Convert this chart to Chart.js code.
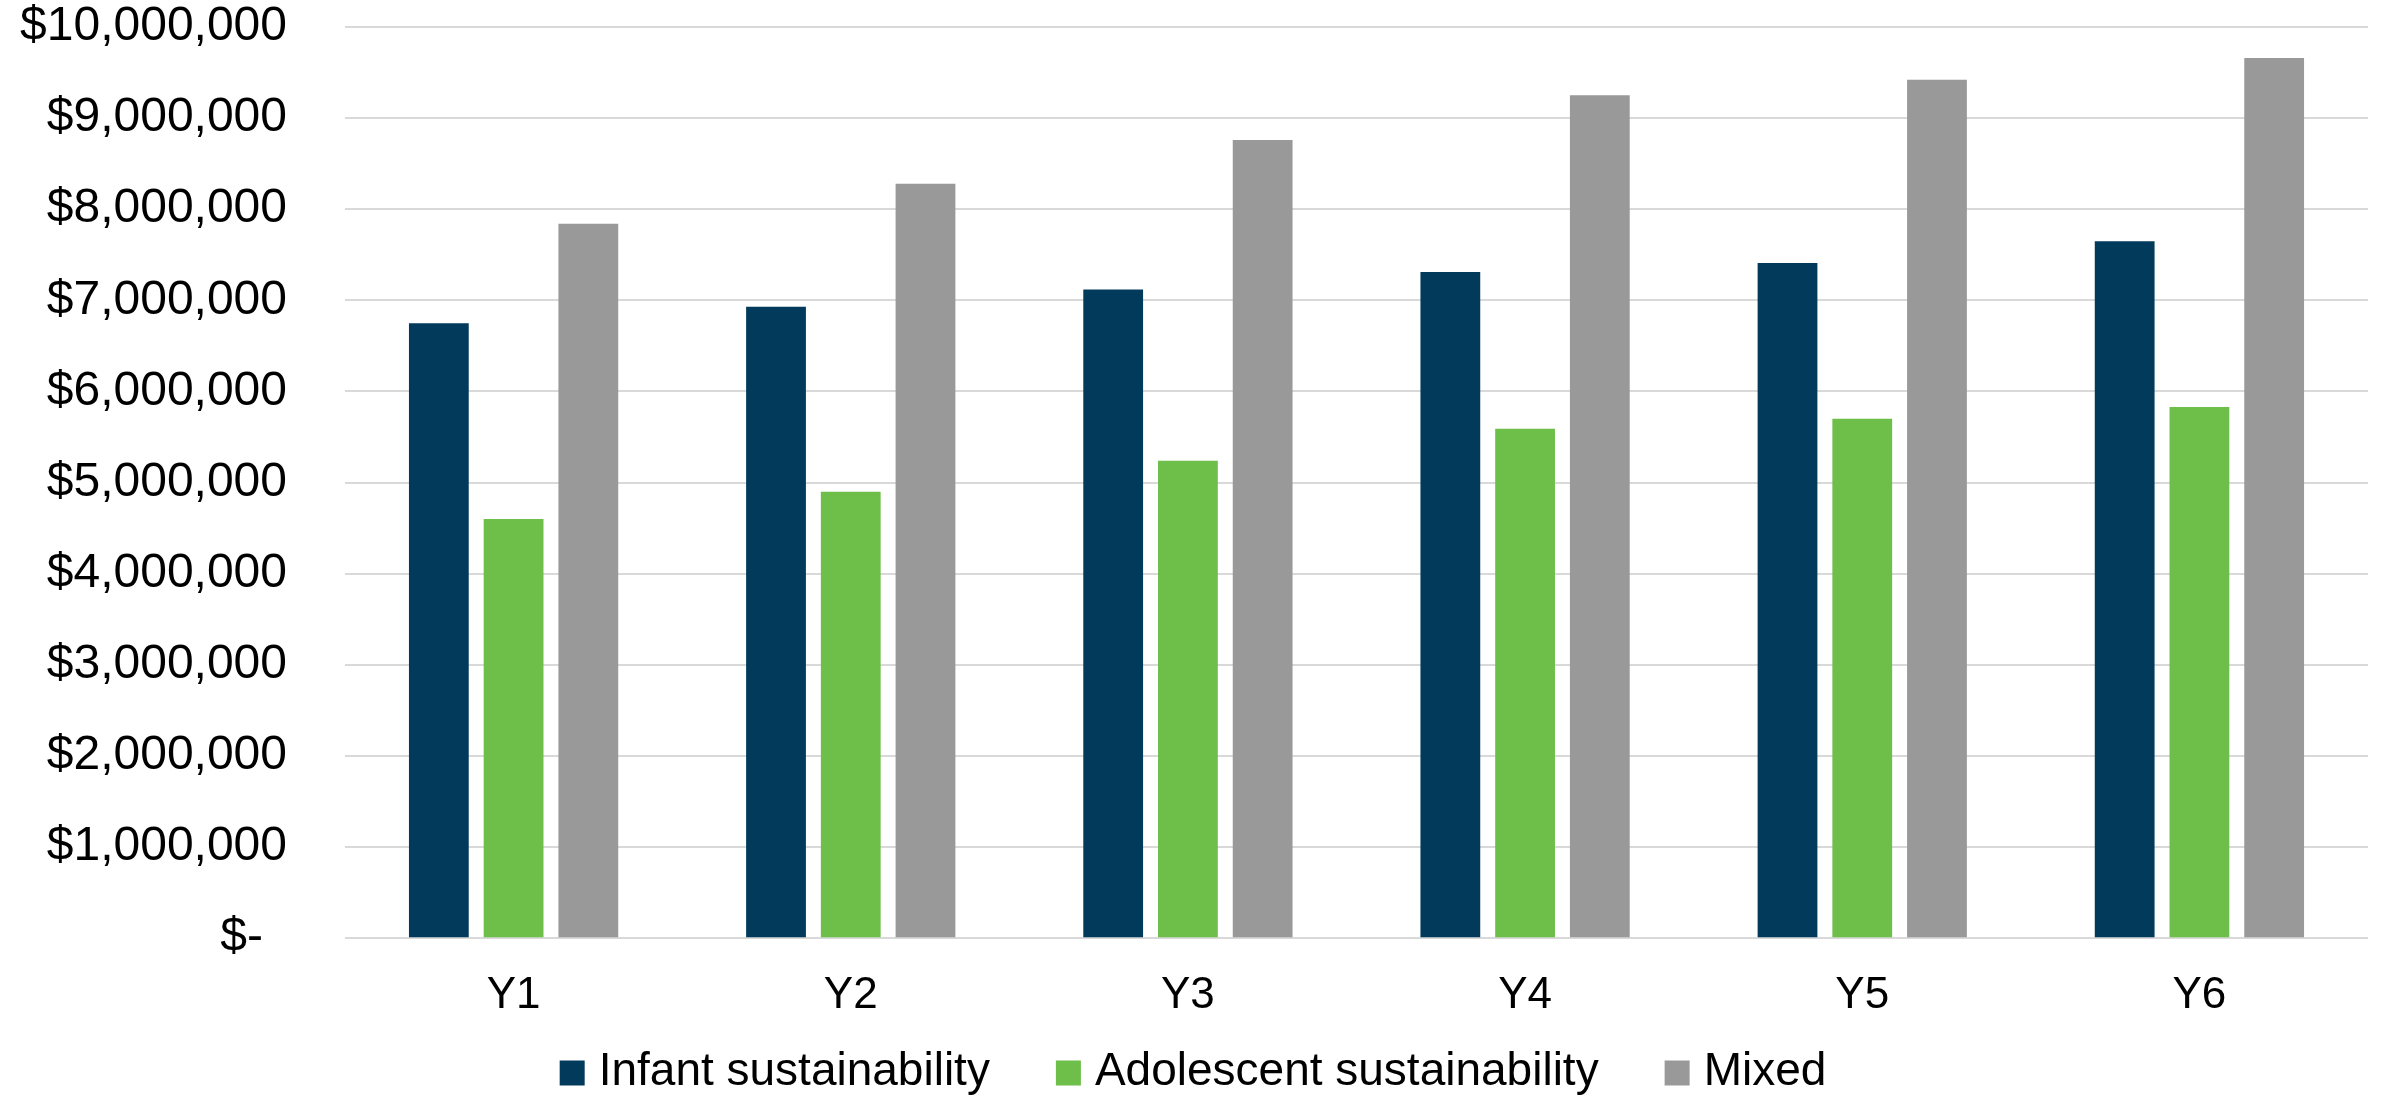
<!DOCTYPE html>
<html>
<head>
<meta charset="utf-8">
<title>Sustainability funding by year</title>
<script src="https://cdn.jsdelivr.net/npm/chart.js@4/dist/chart.umd.min.js"></script>
<style>
  html, body { margin: 0; padding: 0; background: #ffffff; }
  canvas { display: block; }
</style>
</head>
<body>
<canvas id="chart" width="2386" height="1098"></canvas>
<script>
// Categories and series values
const years = ['Y1', 'Y2', 'Y3', 'Y4', 'Y5', 'Y6'];
const infantSustainability = [6750000, 6930000, 7120000, 7310000, 7410000, 7650000];
const adolescentSustainability = [4600000, 4900000, 5240000, 5590000, 5700000, 5830000];
const mixed = [7840000, 8280000, 8760000, 9250000, 9420000, 9660000];

// Value axis range
const axisMin = 0;
const axisMax = 10000000;
const axisStep = 1000000;

const FONT = '"Liberation Sans", Arial, sans-serif';

// Accounting-style currency labels: zero is shown as a dash
function currency(value) {
  if (value === 0) return '$-\u2002';
  return '$' + Number(value).toLocaleString('en-US');
}

// Legend row under the axis: square swatch, then the series name
const bottomLegend = {
  id: 'bottomLegend',
  afterDraw(chart, args, opts) {
    const ctx = chart.ctx;
    const items = chart.data.datasets.map(ds => ({ text: ds.label, color: ds.backgroundColor }));
    ctx.save();
    ctx.font = `${opts.fontSize}px ${FONT}`;
    ctx.textBaseline = 'middle';
    ctx.textAlign = 'left';
    const widths = items.map(it => opts.box + opts.textGap + ctx.measureText(it.text).width);
    const total = widths.reduce((a, b) => a + b, 0) + opts.itemGap * (items.length - 1);
    let x = (chart.width - total) / 2;
    const cy = opts.centerY;
    items.forEach((it, i) => {
      ctx.fillStyle = it.color;
      ctx.fillRect(x, cy - opts.box / 2 + 1, opts.box, opts.box);
      ctx.fillStyle = '#000000';
      ctx.fillText(it.text, x + opts.box + opts.textGap, cy);
      x += widths[i] + opts.itemGap;
    });
    ctx.restore();
  }
};

new Chart(document.getElementById('chart'), {
  type: 'bar',
  data: {
    labels: years,
    datasets: [
      { label: 'Infant sustainability', data: infantSustainability, backgroundColor: '#023A5C' },
      { label: 'Adolescent sustainability', data: adolescentSustainability, backgroundColor: '#6EBE4A' },
      { label: 'Mixed', data: mixed, backgroundColor: '#999999' }
    ]
  },
  plugins: [bottomLegend],
  options: {
    responsive: false,
    animation: false,
    devicePixelRatio: 1,
    layout: { padding: { top: 27, left: 0, right: 18, bottom: 45 } },
    datasets: {
      bar: { categoryPercentage: 0.665, barPercentage: 0.8 }
    },
    plugins: {
      tooltip: { enabled: false },
      legend: { display: false },
      bottomLegend: { fontSize: 46, box: 25, textGap: 14, itemGap: 66, centerY: 1072 }
    },
    scales: {
      x: {
        grid: { display: false, drawTicks: false },
        border: { display: false },
        ticks: {
          color: '#000000',
          padding: 31,
          font: { family: FONT, size: 44 }
        }
      },
      y: {
        min: axisMin,
        max: axisMax,
        grid: { color: '#D9D9D9', lineWidth: 2, drawTicks: false },
        border: { display: false },
        ticks: {
          stepSize: axisStep,
          color: '#000000',
          padding: 58,
          font: { family: FONT, size: 48 },
          callback: currency
        },
        afterFit(scale) {
          scale.width = 345;
          scale.paddingTop = 0;
          scale.paddingBottom = 0;
        }
      }
    }
  }
});
</script>
</body>
</html>
